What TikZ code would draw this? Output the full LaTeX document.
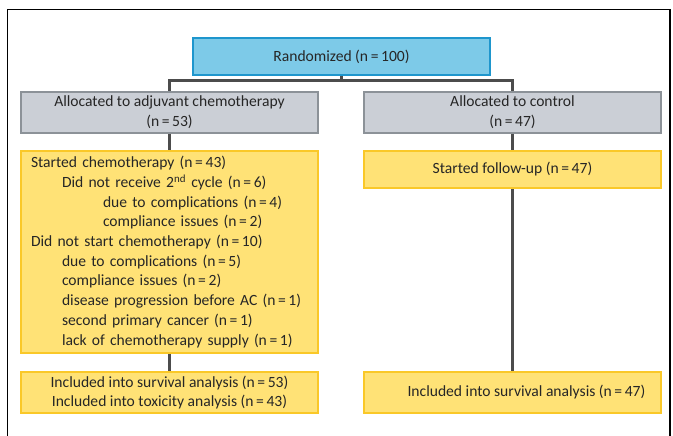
\documentclass[tikz,border=0pt]{standalone}
\usepackage{fontspec}
\setmainfont{Carlito}
\definecolor{randfill}{RGB}{125,202,232}
\definecolor{randline}{RGB}{30,150,205}
\definecolor{armfill}{RGB}{203,207,214}
\definecolor{armline}{RGB}{140,146,152}
\definecolor{stepfill}{RGB}{255,226,118}
\definecolor{stepline}{RGB}{250,200,40}
\begin{document}
\begin{tikzpicture}[x=1pt,y=-1pt,
    every node/.style={text=black!85,font=\fontsize{15.6}{19.7}\selectfont,inner sep=0pt},
    randbox/.style={draw=randline,fill=randfill,line width=2pt,minimum width=297pt,minimum height=37pt},
    armbox/.style={draw=armline,fill=armfill,line width=2pt,minimum width=297pt,minimum height=41pt,align=center},
    stepbox/.style={draw=stepline,fill=stepfill,line width=2pt,minimum width=297pt,align=center},
    link/.style={draw=black!70,line width=3pt}]
    \useasboundingbox (0,0) rectangle (673,436);
    \draw[line width=1.5pt] (7.5,440) -- (7.5,9.5) -- (670,9.5) -- (670,440);
    % boxes
    \node[randbox] (rand) at (341.5,56.5) {Randomized (n\,=\,100)};
    \node[armbox] (alloc) at (169.5,112.5) {Allocated to adjuvant chemotherapy\\(n\,=\,53)};
    \node[armbox] (ctrl) at (512.5,112.5) {Allocated to control\\(n\,=\,47)};
    \node[stepbox,minimum height=202pt,text width=277pt,align=left] (start) at (169.5,252) {%
        Started chemotherapy (n\,=\,43)\\
        \hspace*{31pt}Did not receive 2\textsuperscript{nd} cycle (n\,=\,6)\\
        \hspace*{72pt}due to complications (n\,=\,4)\\
        \hspace*{72pt}compliance issues (n\,=\,2)\\
        Did not start chemotherapy (n\,=\,10)\\
        \hspace*{31pt}due to complications (n\,=\,5)\\
        \hspace*{31pt}compliance issues (n\,=\,2)\\
        \hspace*{31pt}disease progression before AC (n\,=\,1)\\
        \hspace*{31pt}second primary cancer (n\,=\,1)\\
        \hspace*{31pt}lack of chemotherapy supply (n\,=\,1)};
    \node[stepbox,minimum height=37pt] (follow) at (512.5,169.5) {Started follow-up (n\,=\,47)};
    \node[stepbox,minimum height=41pt] (incl) at (169.5,392.5) {Included into survival analysis (n\,=\,53)\\Included into toxicity analysis (n\,=\,43)};
    \node[stepbox,minimum height=41pt] (inclc) at (512.5,392.5) {\hspace*{28pt}Included into survival analysis (n\,=\,47)};
    % connectors
    \coordinate (split) at (341.5,81);
    \draw[link] (rand.south) -- (split);
    \draw[link] (alloc.north) |- (split) -| (ctrl.north);
    \draw[link] (alloc.south) -- (start.north);
    \draw[link] (start.south) -- (incl.north);
    \draw[link] (ctrl.south) -- (follow.north);
    \draw[link] (follow.south) -- (inclc.north);
\end{tikzpicture}
\end{document}
